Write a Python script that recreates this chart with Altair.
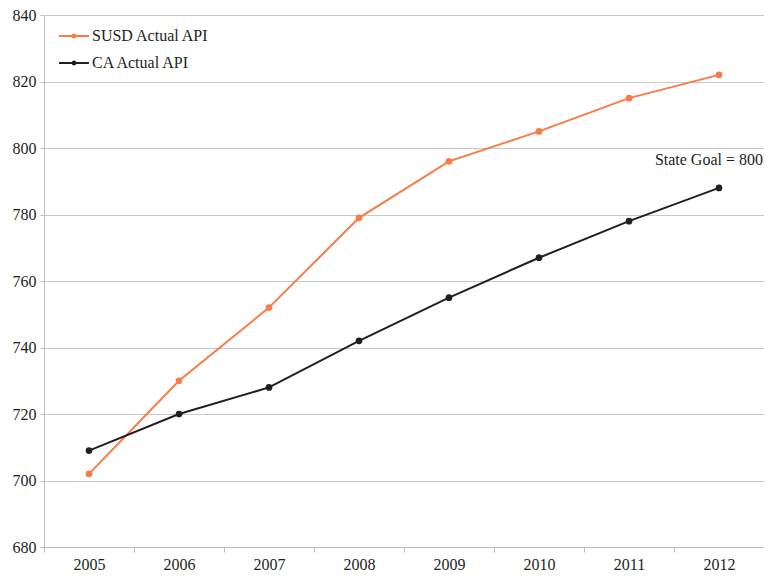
import altair as alt
import pandas as pd

years = ["2005", "2006", "2007", "2008", "2009", "2010", "2011", "2012"]
susd = [702, 730, 752, 779, 796, 805, 815, 822]
ca = [709, 720, 728, 742, 755, 767, 778, 788]
series_names = ["SUSD Actual API", "CA Actual API"]
series_colors = ["#F97B45", "#231F20"]
y_ticks = [680, 700, 720, 740, 760, 780, 800, 820, 840]
goal_label = ["State Goal = 800"]
goal_year = ["2012"]
goal_value = [800]

rows = []
for y, v in zip(years, susd):
    rows.append({"year": y, "api": v, "series": series_names[0]})
for y, v in zip(years, ca):
    rows.append({"year": y, "api": v, "series": series_names[1]})
df = pd.DataFrame(rows)

FONT = "Liberation Serif"
TXT = "#231F20"

legend_path = ("M-1,0H1"
               "M-0.04,0A0.04,0.04 0 1,0 0.04,0A0.04,0.04 0 1,0 -0.04,0"
               "M-0.1,0A0.1,0.1 0 1,0 0.1,0A0.1,0.1 0 1,0 -0.1,0")

x_scale = alt.Scale(type="band", paddingInner=0, paddingOuter=0)
y_scale = alt.Scale(domain=[680, 840], nice=False, zero=False)
x_axis = alt.Axis(title=None, labelAngle=0, tickBand="extent",
                  domainColor="#BDBDBD", tickColor="#BDBDBD",
                  tickSize=5, labelPadding=4, grid=False,
                  labelFont=FONT, labelFontSize=16, labelColor=TXT)
y_axis = alt.Axis(title=None, values=y_ticks, domainColor="#BDBDBD",
                  tickColor="#BDBDBD", tickSize=4, labelPadding=4,
                  gridColor="#C8C8C8", gridWidth=1,
                  labelFont=FONT, labelFontSize=16, labelColor=TXT)
color_scale = alt.Scale(domain=series_names, range=series_colors)


def xe():
    return alt.X("year:O", sort=years, scale=x_scale, bandPosition=0.5, axis=x_axis)


def ye():
    return alt.Y("api:Q", scale=y_scale, axis=y_axis)


color_enc = alt.Color("series:N", scale=color_scale,
                      legend=alt.Legend(title=None, orient="none",
                                        legendX=14, legendY=5,
                                        symbolType=legend_path,
                                        symbolSize=900, symbolStrokeWidth=2,
                                        labelFont=FONT, labelFontSize=16,
                                        labelColor=TXT,
                                        labelOffset=2, rowPadding=3))

lines = alt.Chart(df).mark_line(strokeWidth=2).encode(
    x=xe(), y=ye(), color=color_enc)
points = alt.Chart(df).mark_point(filled=True, size=45, opacity=1).encode(
    x=xe(), y=ye(), color=color_enc)

goal_df = pd.DataFrame({"year": goal_year, "api": goal_value, "label": goal_label})
goal = alt.Chart(goal_df).mark_text(
    font=FONT, fontSize=16, color=TXT, align="right", baseline="top",
    dx=44, dy=4).encode(x=xe(), y=ye(), text="label:N")

chart = alt.layer(lines, points, goal).properties(
    width=720, height=532,
    autosize=alt.AutoSizeParams(type="none"),
    padding={"left": 36, "top": 7, "right": 0, "bottom": 24},
).configure_axis(
    labelFont=FONT, labelFontSize=16, labelColor=TXT,
).configure_view(stroke=None)

chart.save("out.html", embed_options={"renderer": "svg", "actions": False})
